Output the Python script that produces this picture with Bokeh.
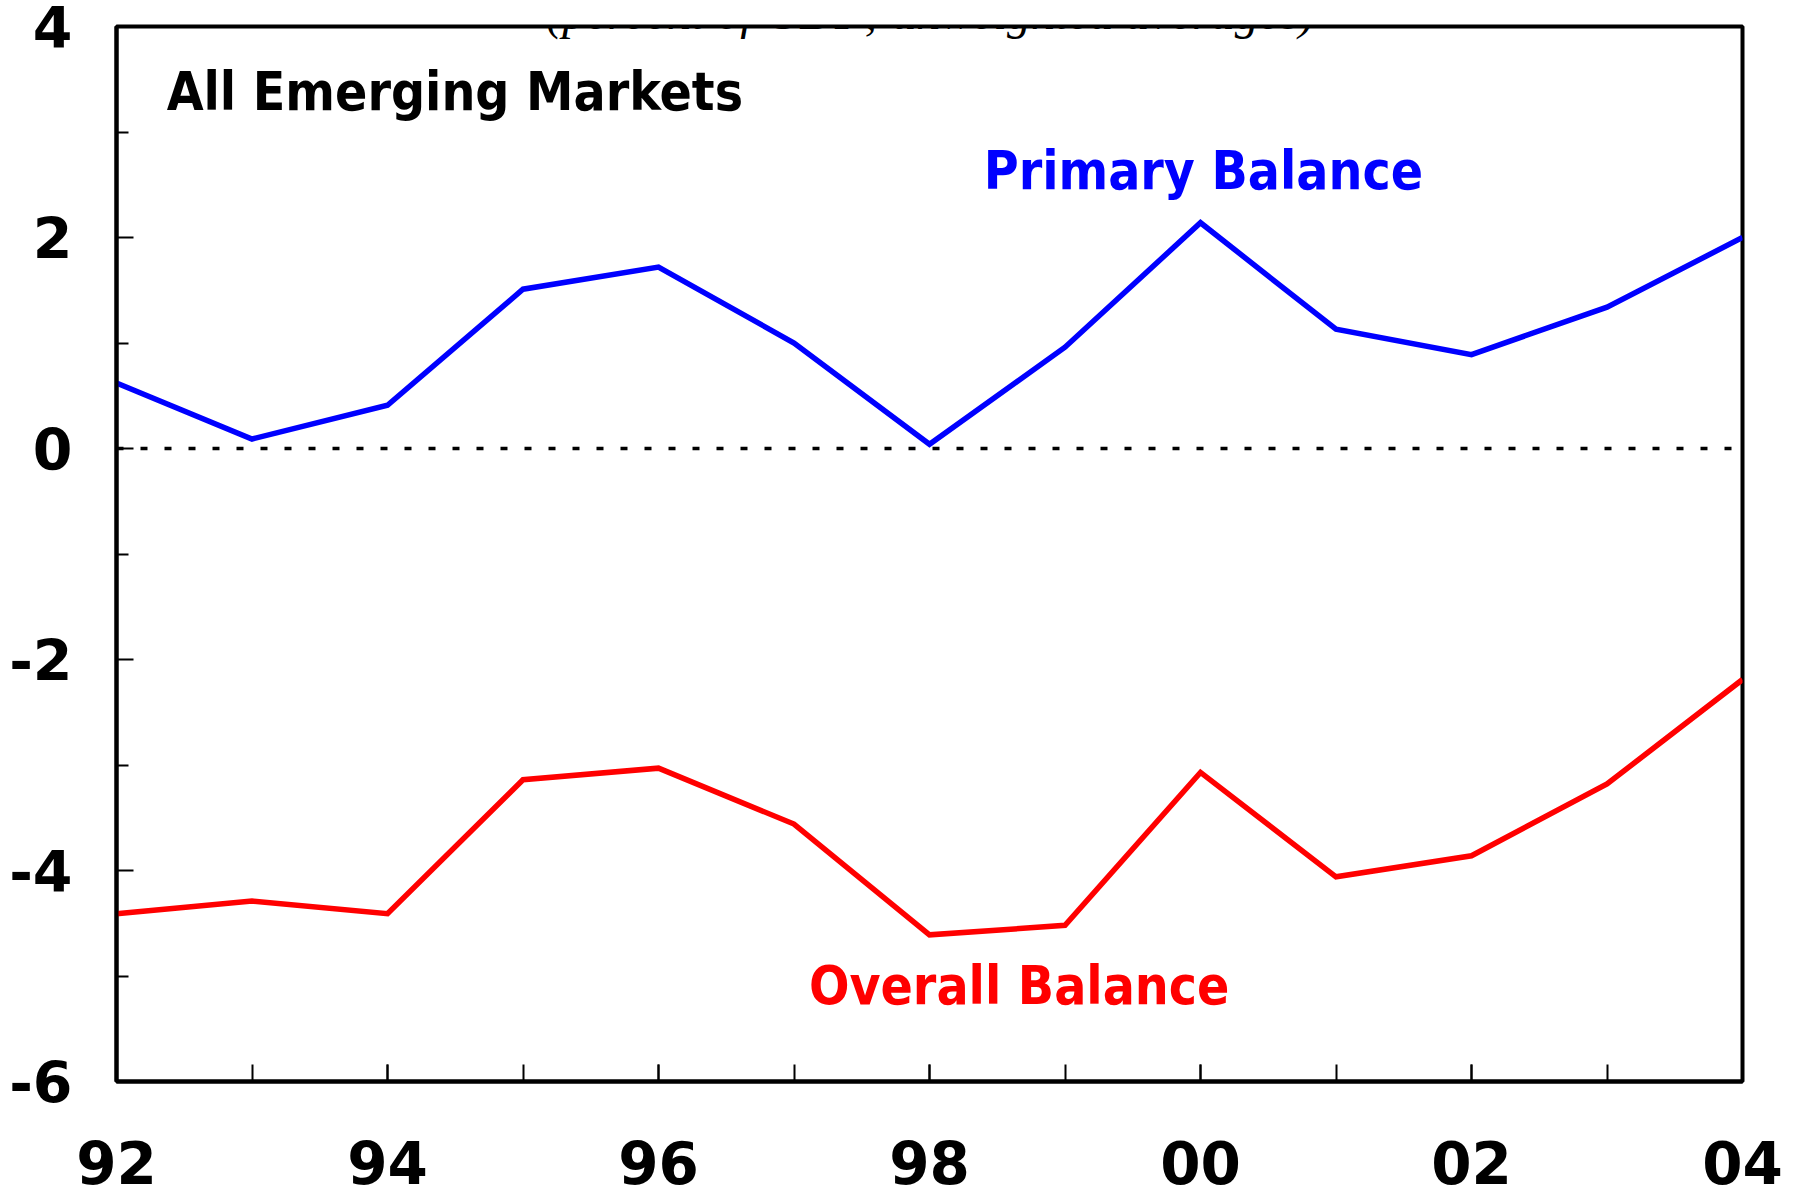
from bokeh.plotting import figure
from bokeh.models import Range1d, FixedTicker, Span, Label
from bokeh.embed import file_html
from bokeh.resources import INLINE

# ---- data ----
years = [1992, 1993, 1994, 1995, 1996, 1997, 1998, 1999, 2000, 2001, 2002, 2003, 2004]
primary_balance = [0.62, 0.09, 0.41, 1.51, 1.72, 1.00, 0.04, 0.96, 2.14, 1.13, 0.89, 1.34, 2.00]
overall_balance = [-4.41, -4.29, -4.41, -3.14, -3.03, -3.56, -4.61, -4.52, -3.07, -4.06, -3.86, -3.18, -2.19]
x_tick_years = [1992, 1994, 1996, 1998, 2000, 2002, 2004]
x_tick_labels = ["92", "94", "96", "98", "00", "02", "04"]
y_ticks = [-6, -4, -2, 0, 2, 4]
y_minor_ticks = [-5, -3, -1, 1, 3]
y_tick_labels = ["-6", "-4", "-2", "0", "2", "4"]
subtitle = "(percent of GDP; unweighted averages)"
panel_title = "All Emerging Markets"
series_names = ["Primary Balance", "Overall Balance"]

TICK_FONT = "DejaVu Sans"
LABEL_FONT = "DejaVu Sans Condensed"

p = figure(width=1790, height=1196, output_backend="svg", toolbar_location=None,
           x_range=Range1d(1992, 2004), y_range=Range1d(-6, 4),
           min_border_left=116, min_border_right=48, min_border_top=26, min_border_bottom=115)

p.background_fill_color = "white"
p.border_fill_color = "white"
p.outline_line_color = "black"
p.outline_line_width = 4
p.xgrid.visible = False
p.ygrid.visible = False

# x axis: labelled every two years, an inward tick every year
xa = p.xaxis[0]
xa.ticker = FixedTicker(ticks=x_tick_years, minor_ticks=years)
xa.major_label_overrides = {yr: lab for yr, lab in zip(x_tick_years, x_tick_labels)}
xa.axis_line_width = 4
xa.major_tick_in = 17
xa.major_tick_out = 0
xa.minor_tick_in = 17
xa.minor_tick_out = 0
xa.major_tick_line_width = 2
xa.minor_tick_line_width = 2
xa.major_label_standoff = 59
xa.major_label_text_font = TICK_FONT
xa.major_label_text_font_style = "bold"
xa.major_label_text_font_size = "58px"
xa.major_label_text_color = "black"

# y axis
ya = p.yaxis[0]
ya.ticker = FixedTicker(ticks=y_ticks, minor_ticks=y_minor_ticks)
ya.major_label_overrides = {v: lab for v, lab in zip(y_ticks, y_tick_labels)}
ya.axis_line_width = 4
ya.major_tick_in = 17
ya.major_tick_out = 0
ya.minor_tick_in = 12
ya.minor_tick_out = 0
ya.major_tick_line_width = 2
ya.minor_tick_line_width = 2
ya.major_label_standoff = 44
ya.major_label_text_font = TICK_FONT
ya.major_label_text_font_style = "bold"
ya.major_label_text_font_size = "57px"
ya.major_label_text_color = "black"

# zero line
p.add_layout(Span(location=0, dimension="width", line_color="black",
                  line_dash="7 17", line_width=3.5))

# series
p.line(years, primary_balance, line_color="#0000FF", line_width=5.5, line_join="miter")
p.line(years, overall_balance, line_color="#FF0000", line_width=5.5, line_join="miter")

# texts
p.add_layout(Label(x=930, y=12, x_units="canvas", y_units="canvas", text=subtitle,
                   text_font="Liberation Serif",
                   text_font_style="italic", text_font_size="48px", text_color="black",
                   text_align="center", text_baseline="alphabetic"))
p.add_layout(Label(x=1992.37, y=3.388, text=panel_title, text_font=LABEL_FONT,
                   text_font_style="bold", text_font_size="53px", text_color="black",
                   text_align="left", text_baseline="alphabetic"))
p.add_layout(Label(x=1998.40, y=2.638, text=series_names[0], text_font=LABEL_FONT,
                   text_font_style="bold", text_font_size="53px", text_color="#0000FF",
                   text_align="left", text_baseline="alphabetic"))
p.add_layout(Label(x=1997.11, y=-5.087, text=series_names[1], text_font=LABEL_FONT,
                   text_font_style="bold", text_font_size="53px", text_color="#FF0000",
                   text_align="left", text_baseline="alphabetic"))

open("out.html", "w").write(file_html(p, INLINE))
